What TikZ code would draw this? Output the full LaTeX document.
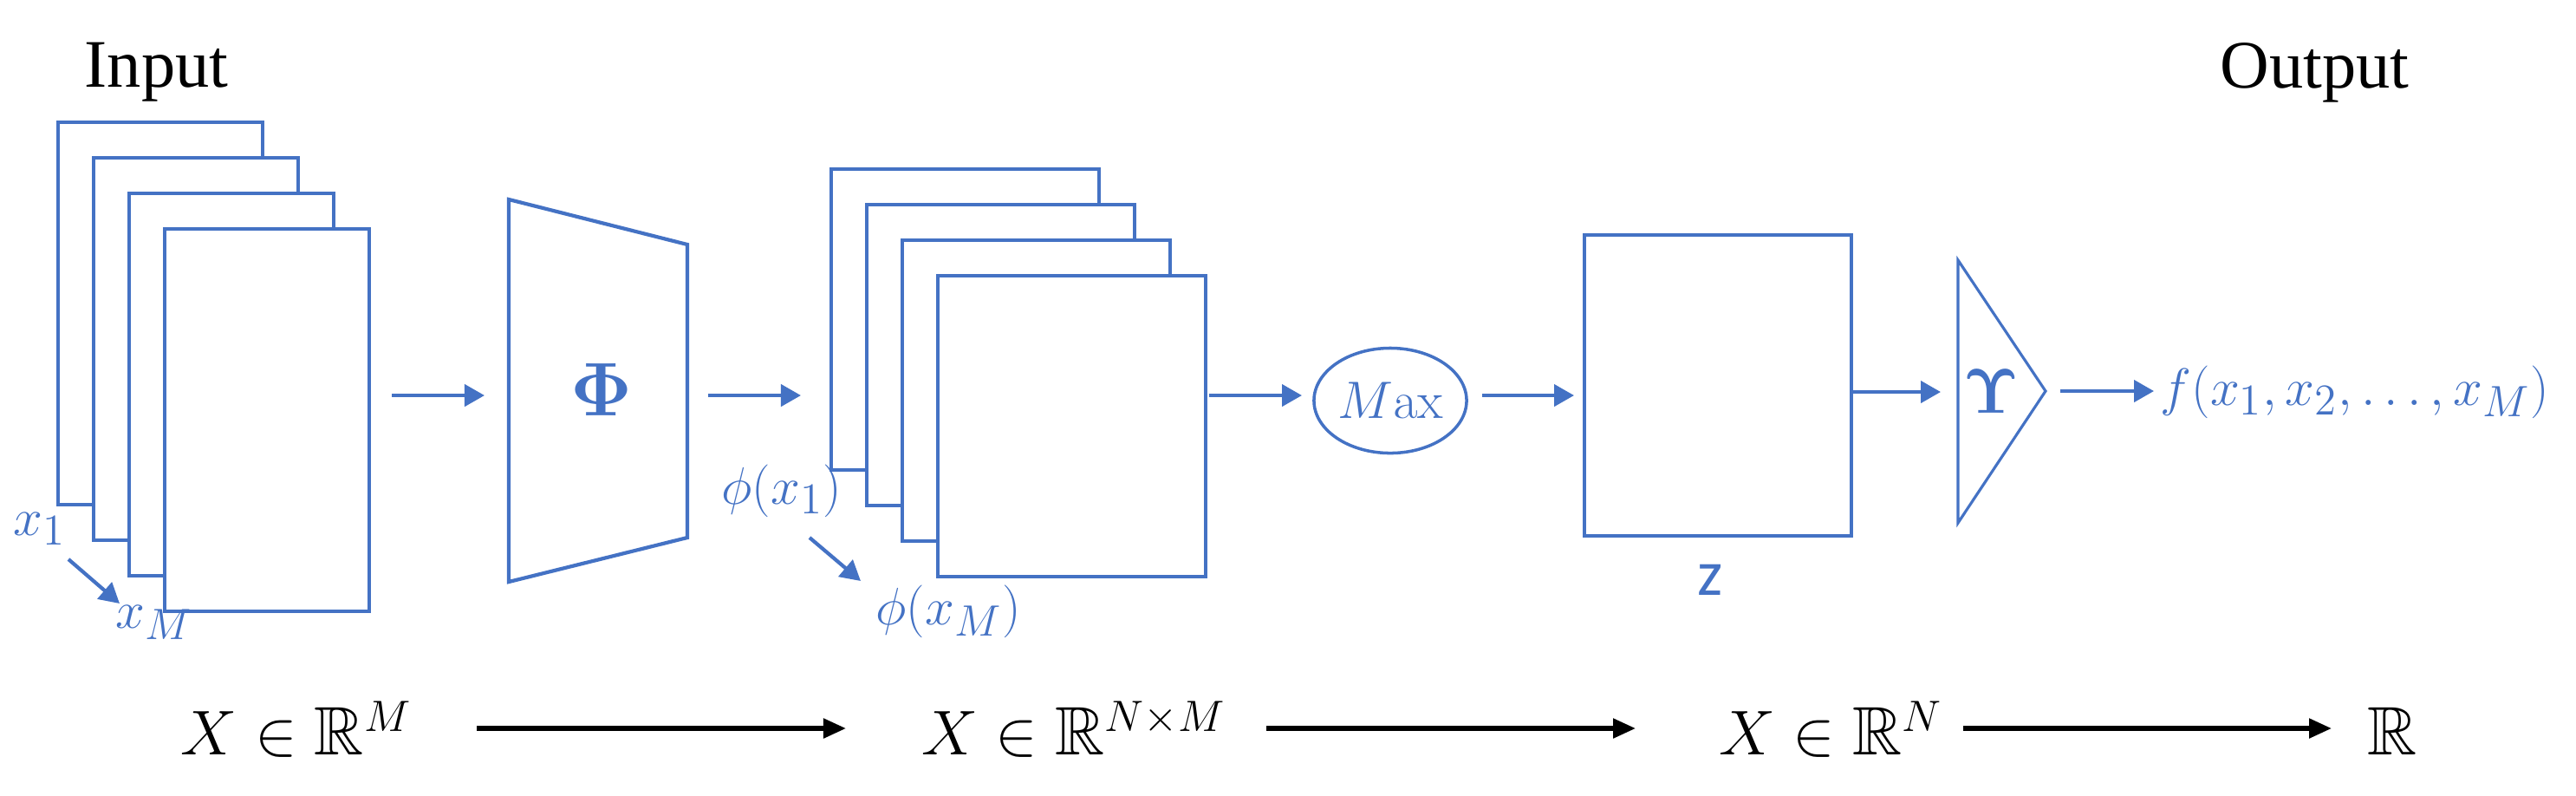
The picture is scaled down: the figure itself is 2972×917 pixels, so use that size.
\documentclass[tikz,border=0pt]{standalone}
\usepackage{amsmath,amssymb}
\usepackage[no-math]{fontspec}
\setmainfont{Liberation Serif}
\newfontfamily\calib{Carlito}
\usetikzlibrary{arrows.meta,shapes.geometric}
\definecolor{ublue}{HTML}{4472C4}
\tikzset{
  blueline/.style={draw=ublue, line width=1.2pt, line join=miter},
  sheet/.style={draw=ublue, line width=1.2pt, fill=white, inner sep=0pt, anchor=north west},
  insheet/.style={sheet, minimum width=2.36cm, minimum height=4.41cm},
  midsheet/.style={sheet, minimum width=3.09cm, minimum height=3.47cm},
  barrow/.style={ublue, line width=1.2pt, -{Triangle[length=0.23cm,width=0.25cm]}},
  karrow/.style={black, line width=1.5pt, -{Triangle[length=0.26cm,width=0.22cm]}},
  bluelabel/.style={text=ublue, inner sep=0pt, font=\fontsize{19}{23}\selectfont},
  bottomlabel/.style={text=black, inner sep=0pt, anchor=base, font=\fontsize{22.5}{27}\selectfont},
  title/.style={inner sep=0pt, anchor=base west, font=\fontsize{22.3}{26}\selectfont}
}
\begin{document}
\begin{tikzpicture}[x=0.01cm,y=-0.01cm]
\useasboundingbox (0,0) rectangle (2972,917);
% titles
\node[title] (intitle) at (97,100) {Input};
\node[title] (outtitle) at (2561,101) {Output};
% input stack
\foreach \i/\x/\y in {1/65/139, 2/106/180, 3/147/221, 4/188/262}
  \node[insheet] (in\i) at (\x,\y) {};
\node[bluelabel] (x1) at (46,610) {$x_1$};
\node[bluelabel] (xM) at (178,718) {$x_M$};
\coordinate (sa1) at (79,645);
\coordinate (sa2) at (138,696);
\draw[barrow] (sa1) -- (sa2);
% arrow to Phi
\coordinate (a1s) at (452,456);
\coordinate (a1e) at (559,456);
\draw[barrow] (a1s) -- (a1e);
% trapezoid Phi
\draw[blueline] (587,230) -- (793,282) -- (793,620) -- (587,671) -- cycle;
\node[bluelabel, font=\fontsize{24}{28}\selectfont] (phi) at (694,449) {$\mathbf{\Phi}$};
% arrow to middle stack
\coordinate (a2s) at (817,456);
\coordinate (a2e) at (924,456);
\draw[barrow] (a2s) -- (a2e);
% middle stack
\foreach \i/\x/\y in {1/957/193, 2/998/234, 3/1039/275, 4/1080/316}
  \node[midsheet] (mid\i) at (\x,\y) {};
\node[bluelabel] (phix1) at (902,566) {$\phi(x_1)$};
\node[bluelabel] (phixM) at (1094,705) {$\phi(x_M)$};
\coordinate (sb1) at (934,620);
\coordinate (sb2) at (993,670);
\draw[barrow] (sb1) -- (sb2);
% arrow to Max
\coordinate (a3s) at (1395,456);
\coordinate (a3e) at (1502,456);
\draw[barrow] (a3s) -- (a3e);
\node[draw=ublue, line width=1pt, ellipse, inner sep=0pt, minimum width=1.76cm, minimum height=1.21cm] (max) at (1604,462) {};
\node[bluelabel, font=\fontsize{18}{22}\selectfont] (maxtxt) at (max.center) {$M\mathrm{ax}$};
\coordinate (a4s) at (1710,456);
\coordinate (a4e) at (1816,456);
\draw[barrow] (a4s) -- (a4e);
% z box
\node[sheet, minimum width=3.08cm, minimum height=3.47cm] (zbox) at (1826,269) {};
\node[bluelabel, font=\calib\fontsize{21}{25}\selectfont] (zlab) at (1973,669) {z};
\coordinate (a5s) at (2136,452);
\coordinate (a5e) at (2239,452);
\draw[barrow] (a5s) -- (a5e);
% triangle Upsilon
\draw[blueline, line width=0.9pt] (2259,300) -- (2360,451) -- (2259,603) -- cycle;
\node[bluelabel, font=\fontsize{20}{24}\selectfont] (ups) at (2297,451) {$\mathbf{\Upsilon}$};
\coordinate (a6s) at (2377,451);
\coordinate (a6e) at (2485,451);
\draw[barrow] (a6s) -- (a6e);
\node[bluelabel, anchor=west] (fout) at (2492,452) {$f(x_1, x_2, \ldots, x_M)$};
% bottom row
\node[bottomlabel] (t1) at (342,870) {$X \in \mathbb{R}^{M}$};
\node[bottomlabel] (t2) at (1239,870) {$X \in \mathbb{R}^{N\times M}$};
\node[bottomlabel] (t3) at (2112,870) {$X \in \mathbb{R}^{N}$};
\node[bottomlabel] (t4) at (2760,870) {$\mathbb{R}$};
\coordinate (b1s) at (550,840);
\coordinate (b1e) at (976,840);
\coordinate (b2s) at (1461,840);
\coordinate (b2e) at (1887,840);
\coordinate (b3s) at (2265,840);
\coordinate (b3e) at (2690,840);
\draw[karrow] (b1s) -- (b1e);
\draw[karrow] (b2s) -- (b2e);
\draw[karrow] (b3s) -- (b3e);
\end{tikzpicture}
\end{document}
